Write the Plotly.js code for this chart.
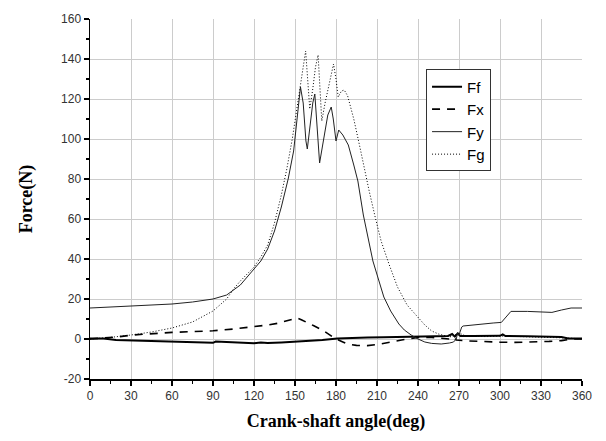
<!DOCTYPE html>
<html>
<head>
<meta charset="utf-8">
<script src="https://cdn.plot.ly/plotly-3.0.1.min.js"></script>
<style>html,body{margin:0;padding:0;background:#fff;}#chart{width:606px;height:441px;}</style>
</head>
<body>
<div id="chart"></div>
<script>
// Crank-shaft angle (deg) and forces (N)
var angleFf = [0,10,19,30,46,60,75,88,90,92,105,115,120,125,130,140,146,150,160,170,181,190,203,215,230,245,255,262,265,267,269,271,280,290,300,302,304,320,335,345,350,360];
var valFf   = [0.3,0.2,-0.5,-0.7,-1,-1.2,-1.3,-1.6,-1.9,-1.3,-1.7,-2,-2.1,-1.8,-2,-1.7,-1.5,-1.3,-1,-0.5,0.2,0.5,0.8,0.9,1,1.2,1.5,1.5,2.5,1.2,2.8,1.5,1.5,1.5,1.6,2.3,1.5,1.4,1.2,1,0.3,0.2];

var angleFx = [0,10,20,31,45,60,75,90,105,120,130,137,145,151.5,155,160,163.8,170,174.8,180,185,188.3,195,203,210,215,222,228,235,240,250,258,263,266,268,275,287,300,311,325,336,345,353,360];
var valFx   = [0,0.5,1,2,2.8,3.3,3.7,4.1,5,6.1,7,7.8,9.3,10.5,9.5,8,6.6,4.5,2.5,0,-1.5,-2.5,-3.2,-3.3,-2.8,-2.3,-1.3,-0.5,0.3,0.8,0.8,0.5,0,1,-0.5,-0.9,-1.4,-1.6,-1.7,-1.5,-1.2,-0.8,0,0];

var angleFy = [0,15,30,45,60,75,90,100,110,115,120,125,130,135,140,145,149,152,154,156,158,159,161,163,164.5,166,168,171,174,176.5,178,180,182,185,189,193,196,200,204,207,211,215,220,226,230,235,240,245,250,257,263,266,268,269,270,272,273,285,295,301,304,308,320,330,338,345,352,360];
var valFy   = [15.5,16,16.5,17,17.5,18.5,20,22,27,31,35,39,45,54,66,80,94,113,126,118,99,95,106,118,122.5,105,88,100,112,116,110,99,104.5,102,97,87,79,62,48,39,30,21,14,7.5,4.5,2,0,-1.5,-2.2,-2.5,-2,-1.5,0,3,2,6,6.5,7.5,8,8.3,10.5,13.8,13.8,13.5,13.3,14.5,15.5,15.5];

var angleFg = [0,15,30,45,60,75,90,100,105,110,120,125,130,135,140,144,148,151,154,156,157.8,159,160.8,163,165,166.9,168,169.6,172,175,178.2,180,181.6,184,186,188.5,193,197,201,204.5,209,213,219,225,232,240,245,250,255,260,265,268,270,275,290,300,320,340,350,360];
var valFg   = [0,0.8,2,3.5,5.5,8.5,14,20,25,29,36,41,47,58,72,85,100,113,125,136,144,130,115,125,136,142,128,109,118,128,137.5,130,121,124,124.5,121.6,110,97.5,84,73.3,60,49,37,26,17,10.8,7,4,2.5,1.6,1,2.5,3,1.5,1.2,1.5,1.2,1,0.5,0];

var seriesNames = ['Ff','Fx','Fy','Fg'];
// inner ticks carry grid lines; edge ticks (no grid) are drawn by overlay axes
var xGridTicks = [30,60,90,120,150,180,210,240,270,300,330];
var xEdgeTicks = [0,360];
var yGridTicks = [-20,0,20,40,60,80,100,120,140];
var yEdgeTicks = [160];

var traces = [
  {x: angleFf, y: valFf, name: seriesNames[0], mode: 'lines', line: {color: '#000', width: 2}},
  {x: angleFx, y: valFx, name: seriesNames[1], mode: 'lines', line: {color: '#000', width: 1.6, dash: '8px,7px'}},
  {x: angleFy, y: valFy, name: seriesNames[2], mode: 'lines', line: {color: '#222', width: 1}},
  {x: angleFg, y: valFg, name: seriesNames[3], mode: 'lines', line: {color: '#000', width: 1, dash: '1px,2px'}},
  // empty trace so that the overlay axes (edge ticks) get drawn
  {x: [], y: [], xaxis: 'x2', yaxis: 'y2', mode: 'lines', showlegend: false, hoverinfo: 'skip'}
];

var tickFont = {family: 'Liberation Sans, Arial, sans-serif', size: 12, color: '#333'};
var titleFont = {family: 'Liberation Serif, Times New Roman, serif', size: 18, color: '#000', weight: 'bold'};
var xRange = [0, 360], yRange = [-20, 160];

function tickStyle(extra) {
  var base = {
    showline: true, linecolor: '#000', linewidth: 1.5,
    ticks: 'outside', ticklen: 5, tickwidth: 1.5, tickcolor: '#000',
    zeroline: false, tickfont: tickFont
  };
  for (var k in extra) base[k] = extra[k];
  return base;
}

var layout = {
  width: 606, height: 441,
  margin: {l: 90, r: 24, t: 19, b: 62},
  paper_bgcolor: '#fff', plot_bgcolor: '#fff',
  showlegend: true,
  legend: {
    x: 0.683, y: 0.860, xanchor: 'left', yanchor: 'top',
    bgcolor: '#fff', bordercolor: '#333', borderwidth: 1,
    font: {family: 'Liberation Sans, Arial, sans-serif', size: 15, color: '#000'},
    tracegroupgap: 0
  },
  xaxis: tickStyle({
    range: xRange, tickvals: xGridTicks, ticktext: xGridTicks.map(String),
    minor: {dtick: 15, tick0: 0, ticks: 'outside', ticklen: 3, tickwidth: 1.2, tickcolor: '#000', showgrid: false},
    showgrid: true, gridcolor: '#cccccc', gridwidth: 1,
    title: {text: 'Crank-shaft angle(deg)', font: titleFont, standoff: 12}
  }),
  yaxis: tickStyle({
    range: yRange, tickvals: yGridTicks, ticktext: yGridTicks.map(String),
    minor: {dtick: 10, tick0: 0, ticks: 'outside', ticklen: 3, tickwidth: 1.2, tickcolor: '#000', showgrid: false},
    showgrid: true, gridcolor: '#cccccc', gridwidth: 1,
    title: {text: 'Force(N)', font: titleFont, standoff: 24}
  }),
  xaxis2: tickStyle({
    overlaying: 'x', anchor: 'y', side: 'bottom', range: xRange,
    tickvals: xEdgeTicks, ticktext: xEdgeTicks.map(String), showgrid: false
  }),
  yaxis2: tickStyle({
    overlaying: 'y', anchor: 'x', side: 'left', range: yRange,
    tickvals: yEdgeTicks, ticktext: yEdgeTicks.map(String), showgrid: false
  })
};

Plotly.newPlot('chart', traces, layout, {displayModeBar: false, staticPlot: true});
</script>
</body>
</html>
